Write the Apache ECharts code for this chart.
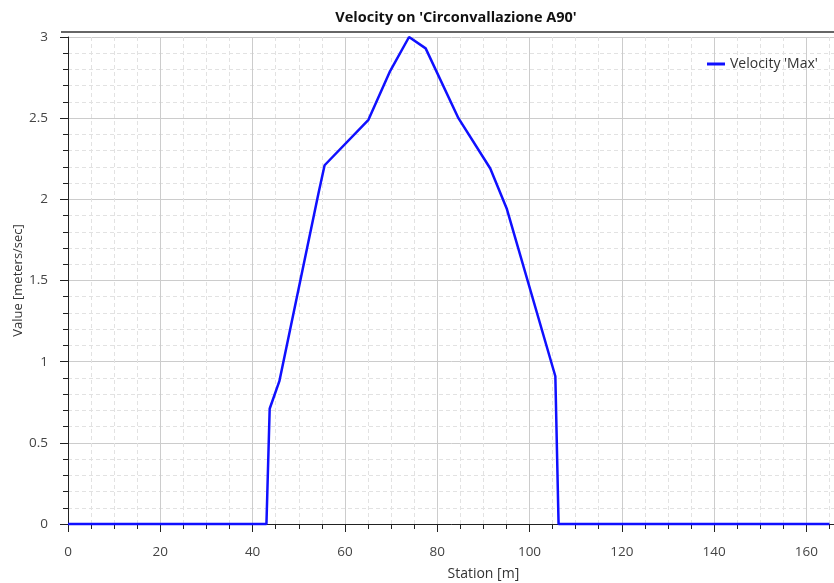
<!DOCTYPE html>
<html>
<head>
<meta charset="utf-8">
<script src="https://cdn.jsdelivr.net/npm/echarts@6/dist/echarts.min.js"></script>
<style>html,body{margin:0;padding:0;background:#fff}#c{width:834px;height:583px}</style>
</head>
<body>
<div id="c"></div>
<script>
const chartTitle = "Velocity on 'Circonvallazione A90'";
const seriesName = "Velocity 'Max'";
const xAxisName = "Station [m]";
const yAxisName = "Value [meters/sec]";
const station = [0, 43.0, 43.7, 45.8, 54.3, 55.6, 65.1, 69.8, 73.9, 77.5, 84.6, 91.5, 95.1, 105.6, 106.3, 165];
const velocity = [0, 0, 0.71, 0.88, 2.04, 2.21, 2.49, 2.79, 3.0, 2.93, 2.50, 2.19, 1.94, 0.91, 0, 0];

const FONT = "'Open Sans', 'Noto Sans', sans-serif";
const chart = echarts.init(document.getElementById('c'), null, {renderer: 'canvas'});
const data = station.map((s, i) => [s, velocity[i]]);

chart.setOption({
  animation: false,
  backgroundColor: '#fff',
  textStyle: {fontFamily: FONT},
  title: {
    text: chartTitle,
    left: 451, top: 5, textAlign: 'center',
    textStyle: {fontFamily: FONT, fontSize: 14.5, fontWeight: 'bold', color: '#111'}
  },
  legend: {
    left: 702, top: 52,
    icon: 'rect', itemWidth: 18, itemHeight: 3, itemGap: 6,
    textStyle: {fontFamily: FONT, fontSize: 14, color: '#333'},
    data: [seriesName]
  },
  graphic: [{
    type: 'line', z: 10,
    shape: {x1: 61, y1: 32, x2: 834, y2: 32},
    style: {stroke: '#666', lineWidth: 2}
  }],
  grid: {left: 68, top: 37, width: 830.7, height: 487, containLabel: false, outerBoundsMode: 'none'},
  xAxis: {
    type: 'value', min: 0, max: 180, interval: 20, offset: 5,
    name: xAxisName, nameLocation: 'middle', nameGap: 38,
    nameTextStyle: {fontFamily: FONT, fontSize: 14, color: '#333'},
    axisLine: {show: true, lineStyle: {color: '#222', width: 1}},
    axisTick: {show: true, length: 8, lineStyle: {color: '#222'}},
    minorTick: {show: true, splitNumber: 4, length: 5, lineStyle: {color: '#222'}},
    axisLabel: {fontFamily: FONT, fontSize: 13.5, color: '#444', margin: 16},
    splitLine: {show: true, lineStyle: {color: '#cccccc', width: 1}},
    minorSplitLine: {show: true, lineStyle: {color: '#e2e2e2', width: 1, type: [4, 3]}}
  },
  yAxis: {
    type: 'value', min: 0, max: 3, interval: 0.5, offset: 7,
    name: yAxisName, nameLocation: 'middle', nameGap: 36, nameRotate: 90, nameMoveOverlap: false,
    nameTextStyle: {fontFamily: FONT, fontSize: 13, color: '#333'},
    axisLine: {show: true, lineStyle: {color: '#222', width: 1}},
    axisTick: {show: true, length: 8, lineStyle: {color: '#222'}},
    minorTick: {show: true, splitNumber: 5, length: 5, lineStyle: {color: '#222'}},
    axisLabel: {fontFamily: FONT, fontSize: 13.5, color: '#444', margin: 13},
    splitLine: {show: true, lineStyle: {color: '#cccccc', width: 1}},
    minorSplitLine: {show: true, lineStyle: {color: '#e2e2e2', width: 1, type: [4, 3]}}
  },
  series: [{
    name: seriesName, type: 'line', data: data,
    symbol: 'none', clip: false,
    lineStyle: {color: '#1010ff', width: 2.5},
    itemStyle: {color: '#1010ff'}
  }]
});
</script>
</body>
</html>
